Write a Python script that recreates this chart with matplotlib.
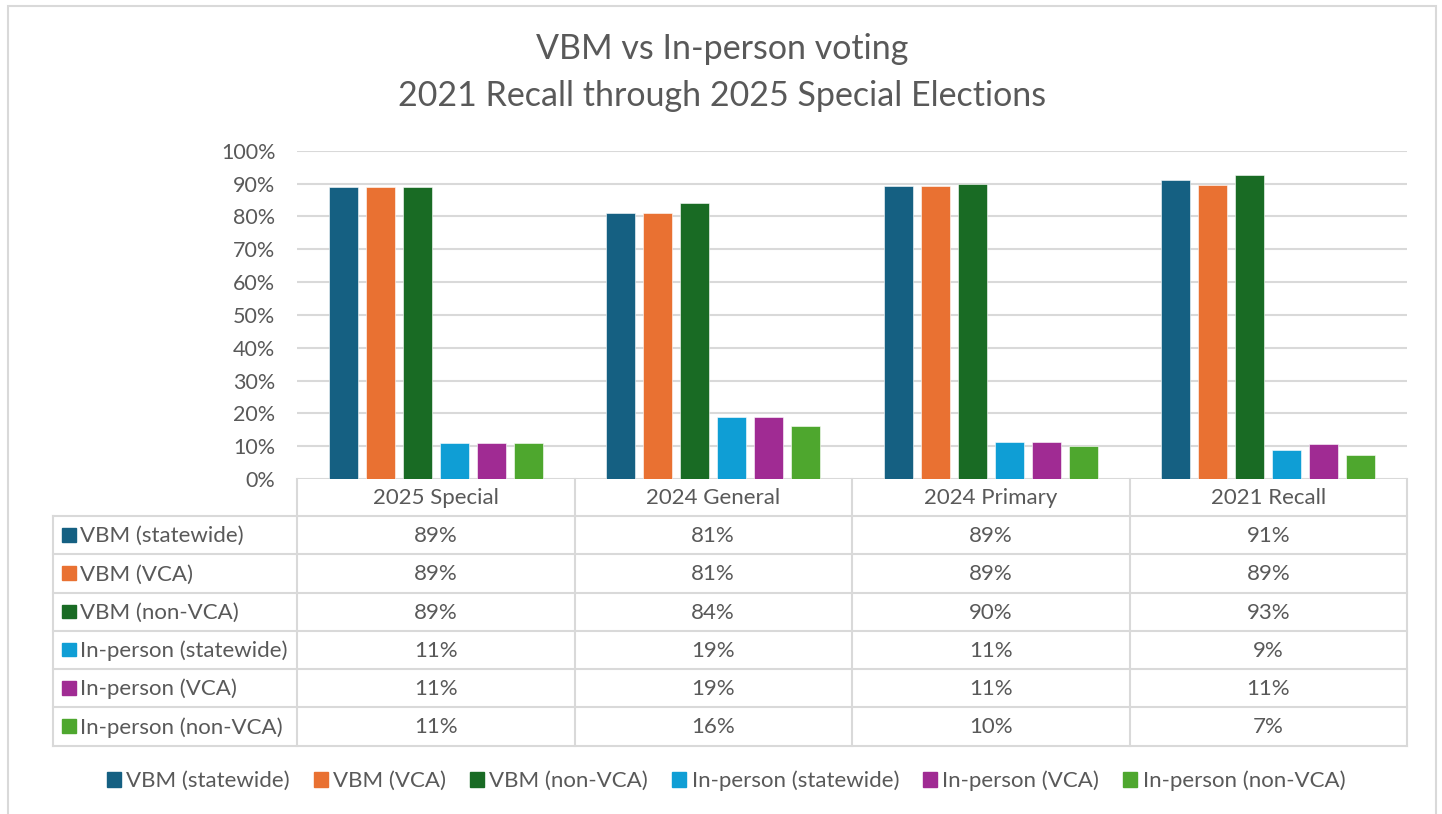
import numpy as np
import matplotlib.pyplot as plt
from matplotlib.patches import Rectangle

plt.rcParams['font.family'] = ['Lato', 'DejaVu Sans']

# data (share of ballots)
elections = ["2025 Special", "2024 General", "2024 Primary", "2021 Recall"]
series = ["VBM (statewide)", "VBM (VCA)", "VBM (non-VCA)",
          "In-person (statewide)", "In-person (VCA)", "In-person (non-VCA)"]
vbm_statewide = [0.89, 0.81, 0.892, 0.912]
vbm_vca = [0.89, 0.81, 0.892, 0.894]
vbm_non_vca = [0.89, 0.842, 0.90, 0.926]
inperson_statewide = [0.11, 0.19, 0.112, 0.088]
inperson_vca = [0.11, 0.19, 0.112, 0.106]
inperson_non_vca = [0.11, 0.162, 0.102, 0.074]
values = [vbm_statewide, vbm_vca, vbm_non_vca,
          inperson_statewide, inperson_vca, inperson_non_vca]
colors = ["#156082", "#E97132", "#196B24", "#0F9ED5", "#A02B93", "#4EA72E"]

TXT = "#595959"
GRID = "#D9D9D9"
W, H = 1442, 814
FS = 16

def fx(px):
    return px / W

def fy(py):
    return 1 - py / H

fig = plt.figure(figsize=(W / 100, H / 100), dpi=100)

# overlay in pixel coords for the table + chart border
ov = fig.add_axes([0, 0, 1, 1])
ov.set_xlim(0, W)
ov.set_ylim(H, 0)
ov.axis("off")

# chart area border (bottom edge is cut off in the original)
ov.plot([7.5, 7.5, 1435.5, 1435.5], [H + 5, 5.5, 5.5, H + 5], color=GRID, lw=1.5,
        solid_joinstyle="miter")

# title
ov.text(722, 49, "VBM vs In-person voting", ha="center", va="center",
        fontsize=24.5, color=TXT)
ov.text(722, 96, "2021 Recall through 2025 Special Elections", ha="center",
        va="center", fontsize=24.5, color=TXT)

# bars
plot_l, plot_r, plot_t, plot_b = 297, 1407, 150.7, 479
ax = fig.add_axes([fx(plot_l), fy(plot_b), fx(plot_r) - fx(plot_l),
                   (plot_b - plot_t) / H])
ax.set_xlim(0, len(elections))
ax.set_ylim(0, 1)
x = np.arange(len(elections))
step, bw, first = 0.1333, 0.1045, 0.1665
for i, vals in enumerate(values):
    ax.bar(x + first + i * step, vals, width=bw, color=colors[i],
           edgecolor="white", linewidth=0.4, zorder=3)
ax.set_yticks(np.arange(0, 1.01, 0.1))
ax.set_yticklabels([f"{int(round(t * 100))}%" for t in np.arange(0, 1.01, 0.1)])
ax.set_xticks([])
ax.tick_params(axis="y", length=0, pad=15.5, labelsize=15.5, labelcolor=TXT)
ax.grid(axis="y", color=GRID, lw=1.5, zorder=0)
for s in ax.spines.values():
    s.set_visible(False)
ax.patch.set_alpha(0)

# data table under the bars
col_edges = np.linspace(plot_l, plot_r, len(elections) + 1)
tab_left = 53
head_bottom = 516
row_h = 38.25
rows_y = head_bottom + np.arange(len(series) + 1) * row_h
tab_bottom = rows_y[-1]

for yy in rows_y:
    ov.plot([tab_left, plot_r], [yy, yy], color=GRID, lw=1.5, zorder=1)
ov.plot([tab_left, tab_left], [head_bottom, tab_bottom], color=GRID, lw=1.5)
for xx in col_edges:
    ov.plot([xx, xx], [plot_b, tab_bottom], color=GRID, lw=1.5)

col_mid = (col_edges[:-1] + col_edges[1:]) / 2
for j, name in enumerate(elections):
    ov.text(col_mid[j], (plot_b + head_bottom) / 2 + 1, name, ha="center",
            va="center", fontsize=FS, color=TXT)

for i, name in enumerate(series):
    yc = (rows_y[i] + rows_y[i + 1]) / 2
    ov.add_patch(Rectangle((62, yc - 7), 13.5, 13.5, color=colors[i]))
    ov.text(80, yc + 1, name, ha="left", va="center", fontsize=FS, color=TXT)
    for j in range(len(elections)):
        ov.text(col_mid[j], yc + 1, f"{round(values[i][j] * 100):.0f}%",
                ha="center", va="center", fontsize=FS, color=TXT)

# legend
handles = [Rectangle((0, 0), 1, 1, color=c) for c in colors]
fig.legend(handles, series, loc="center", bbox_to_anchor=(fx(726), fy(781)),
           ncol=6, frameon=False, fontsize=FS, labelcolor=TXT,
           handlelength=0.62, handleheight=0.62, handletextpad=0.25,
           columnspacing=1.08)

fig.savefig("out.png", dpi=100, facecolor="white")
